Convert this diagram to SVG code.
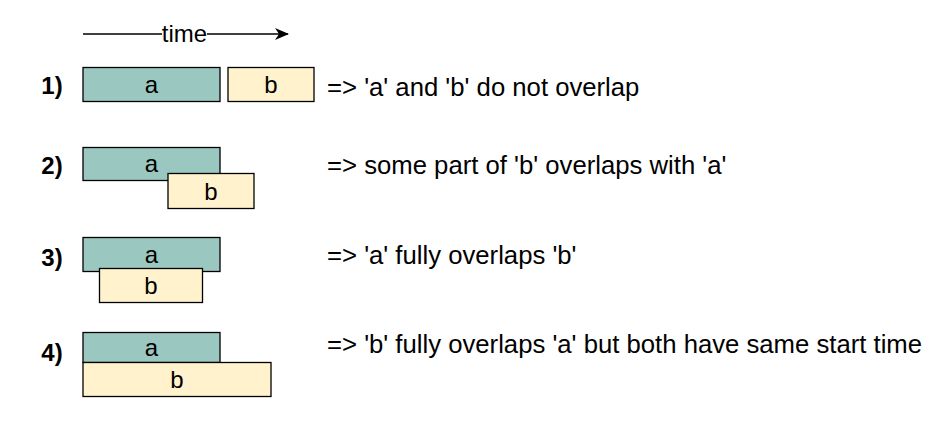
<svg xmlns="http://www.w3.org/2000/svg" width="951" height="421" viewBox="0 0 951 421">
<style>
text{font-family:"Liberation Sans",Arial,sans-serif;fill:#000}
.a{fill:#9AC7BF;stroke:#000;stroke-width:1.3}
.b{fill:#FFF2CC;stroke:#000;stroke-width:1.3}
.bl{font-size:24px;text-anchor:middle}
.num{font-size:24px;font-weight:bold;text-anchor:middle}
.desc{font-size:25.7px}
</style>
<defs>
<marker id="arr" markerWidth="14" markerHeight="12" refX="13" refY="6" orient="auto" markerUnits="userSpaceOnUse">
<path d="M0,0 L14,6 L0,12 L4,6 Z" fill="#000"/>
</marker>
</defs>
<g id="connectors">
<line x1="83" y1="34" x2="288" y2="34" stroke="#000" stroke-width="1.3" marker-end="url(#arr)"/>
<rect x="162" y="22" width="45" height="24" fill="#fff"/>
<text x="184.5" y="42" class="bl">time</text>
</g>
<g id="row1">
<text x="52" y="94" class="num">1)</text>
<g id="r1a"><rect class="a" x="83" y="67.5" width="137" height="34"/><text x="151.5" y="93" class="bl">a</text></g>
<g id="r1b"><rect class="b" x="228" y="67.5" width="86" height="34"/><text x="271" y="93" class="bl">b</text></g>
<text x="327" y="96" class="desc">=&gt; 'a' and 'b' do not overlap</text>
</g>
<g id="row2">
<text x="52" y="174" class="num">2)</text>
<g id="r2a"><rect class="a" x="83" y="147.5" width="137" height="33"/><text x="151.5" y="172" class="bl">a</text></g>
<g id="r2b"><rect class="b" x="168" y="173.5" width="86" height="35"/><text x="211" y="200" class="bl">b</text></g>
<text x="327" y="174" class="desc">=&gt; some part of 'b' overlaps with 'a'</text>
</g>
<g id="row3">
<text x="52" y="266" class="num">3)</text>
<g id="r3a"><rect class="a" x="83" y="237.5" width="137" height="34"/><text x="151.5" y="263" class="bl">a</text></g>
<g id="r3b"><rect class="b" x="99.5" y="268.5" width="103" height="34"/><text x="151" y="294" class="bl">b</text></g>
<text x="327" y="264" class="desc">=&gt; 'a' fully overlaps 'b'</text>
</g>
<g id="row4">
<text x="52" y="361" class="num">4)</text>
<g id="r4a"><rect class="a" x="83" y="332.5" width="137" height="30"/><text x="151.5" y="356" class="bl">a</text></g>
<g id="r4b"><rect class="b" x="83" y="362.5" width="188" height="34"/><text x="177" y="388" class="bl">b</text></g>
<text x="327" y="353" class="desc">=&gt; 'b' fully overlaps 'a' but both have same start time</text>
</g>
</svg>
